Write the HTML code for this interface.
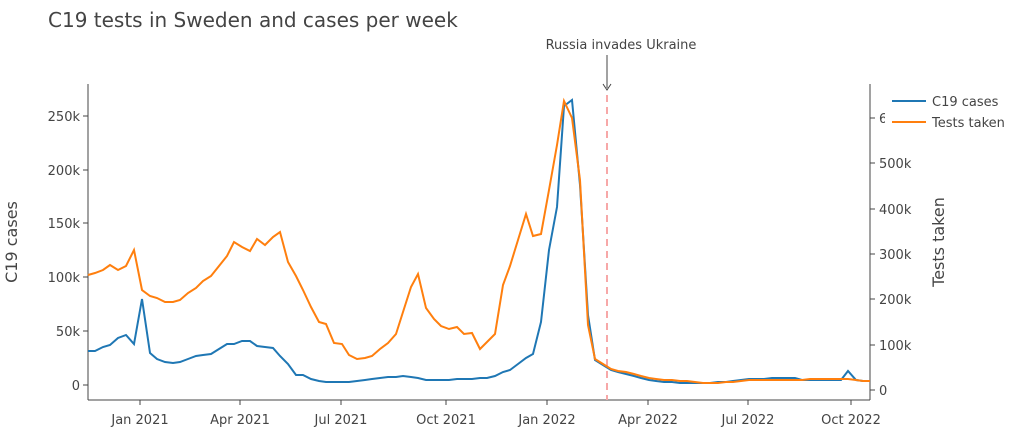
<!DOCTYPE html>
<html><head><meta charset="utf-8"><style>
body{margin:0;background:#fff;}
text{font-family:"DejaVu Sans","Liberation Sans",sans-serif;fill:#444;}
</style></head><body>
<svg width="1023" height="442" xmlns="http://www.w3.org/2000/svg">
<text x="48" y="27" font-size="20" fill="#333">C19 tests in Sweden and cases per week</text>
<line x1="88" y1="84" x2="88" y2="400" stroke="#444" stroke-width="1"/>
<line x1="88" y1="400" x2="870" y2="400" stroke="#444" stroke-width="1"/>
<line x1="870" y1="84" x2="870" y2="400" stroke="#444" stroke-width="1"/>
<g font-size="13" text-anchor="end">
<text x="80" y="390">0</text><text x="80" y="336">50k</text><text x="80" y="282">100k</text>
<text x="80" y="228">150k</text><text x="80" y="175">200k</text><text x="80" y="121">250k</text>
</g>
<g stroke="#444"><line x1="83" y1="385" x2="88" y2="385"/><line x1="83" y1="331" x2="88" y2="331"/><line x1="83" y1="277" x2="88" y2="277"/><line x1="83" y1="223" x2="88" y2="223"/><line x1="83" y1="170" x2="88" y2="170"/><line x1="83" y1="116" x2="88" y2="116"/>
<line x1="870" y1="390" x2="875" y2="390"/><line x1="870" y1="345" x2="875" y2="345"/><line x1="870" y1="299" x2="875" y2="299"/><line x1="870" y1="254" x2="875" y2="254"/><line x1="870" y1="209" x2="875" y2="209"/><line x1="870" y1="163" x2="875" y2="163"/><line x1="870" y1="118" x2="875" y2="118"/>
<line x1="140" y1="400" x2="140" y2="405"/><line x1="240" y1="400" x2="240" y2="405"/><line x1="341" y1="400" x2="341" y2="405"/><line x1="446" y1="400" x2="446" y2="405"/><line x1="547" y1="400" x2="547" y2="405"/><line x1="648" y1="400" x2="648" y2="405"/><line x1="748" y1="400" x2="748" y2="405"/><line x1="851" y1="400" x2="851" y2="405"/>
</g>
<g font-size="13">
<text x="879" y="395">0</text><text x="879" y="350">100k</text><text x="879" y="304">200k</text><text x="879" y="259">300k</text><text x="879" y="214">400k</text><text x="879" y="168">500k</text><text x="879" y="123">6</text>
</g>
<g font-size="13" text-anchor="middle">
<text x="140" y="424">Jan 2021</text><text x="240" y="424">Apr 2021</text><text x="341" y="424">Jul 2021</text><text x="446" y="424">Oct 2021</text><text x="547" y="424">Jan 2022</text><text x="648" y="424">Apr 2022</text><text x="748" y="424">Jul 2022</text><text x="851" y="424">Oct 2022</text>
</g>
<text transform="translate(17,242) rotate(-90)" font-size="16" text-anchor="middle">C19 cases</text>
<text transform="translate(944,242) rotate(-90)" font-size="16" text-anchor="middle">Tests taken</text>
<rect x="885" y="88" width="138" height="48" fill="#fff"/>
<line x1="892" y1="101" x2="926" y2="101" stroke="#1f77b4" stroke-width="2"/>
<text x="932" y="106" font-size="13">C19 cases</text>
<line x1="892" y1="122" x2="926" y2="122" stroke="#ff7f0e" stroke-width="2"/>
<text x="932" y="127" font-size="13">Tests taken</text>
<line x1="607" y1="95" x2="607" y2="400" stroke="#f7a8a8" stroke-width="2" stroke-dasharray="7,5"/>
<text x="621" y="49" font-size="13" text-anchor="middle">Russia invades Ukraine</text>
<line x1="607" y1="55" x2="607" y2="88" stroke="#444" stroke-width="1"/>
<path d="M603,84 L607,90 L611,84" fill="none" stroke="#444" stroke-width="1"/>
<polyline fill="none" stroke="#1f77b4" stroke-width="2" points="88,351 95,351 103,347 110,345 118,338 126,335 134,344 142,299 150,353 157,359 165,362 173,363 180,362 188,359 196,356 203,355 211,354 219,349 227,344 234,344 242,341 250,341 257,346 265,347 273,348 280,356 288,364 296,375 303,375 311,379 319,381 326,382 334,382 342,382 349,382 357,381 365,380 372,379 380,378 388,377 396,377 403,376 411,377 418,378 426,380 434,380 441,380 449,380 457,379 464,379 472,379 480,378 487,378 495,376 503,372 510,370 518,364 526,358 533,354 541,322 549,250 557,207 564,106 572,100 580,185 588,315 595,360 603,365 611,370 618,372 626,374 634,376 641,378 649,380 656,381 664,382 672,382 680,383 687,383 695,383 703,383 710,383 718,382 726,382 733,381 741,380 749,379 756,379 764,379 772,378 779,378 787,378 795,378 802,380 810,380 818,380 826,380 833,380 841,380 848,371 856,380 863,381 870,381"/>
<polyline fill="none" stroke="#ff7f0e" stroke-width="2" points="88,275 95,273 103,270 110,265 118,270 126,266 134,250 142,290 150,296 157,298 165,302 173,302 180,300 188,293 196,288 203,281 211,276 219,266 227,256 234,242 242,247 250,251 257,239 265,245 273,237 280,232 288,262 296,276 303,290 311,307 319,322 326,324 334,343 342,344 349,355 357,359 365,358 372,356 380,349 388,343 396,334 403,312 411,287 418,274 426,308 434,319 441,326 449,329 457,327 464,334 472,333 480,349 487,342 495,334 503,285 510,266 518,240 526,214 533,236 541,234 549,190 557,145 564,101 572,118 580,180 588,325 595,359 603,364 611,369 618,371 626,372 634,374 641,376 649,378 656,379 664,380 672,380 680,381 687,381 695,382 703,383 710,383 718,383 726,382 733,382 741,381 749,380 756,380 764,380 772,380 779,380 787,380 795,380 802,380 810,379 818,379 826,379 833,379 841,379 848,379 856,380 863,381 870,381"/>
</svg>
</body></html>
